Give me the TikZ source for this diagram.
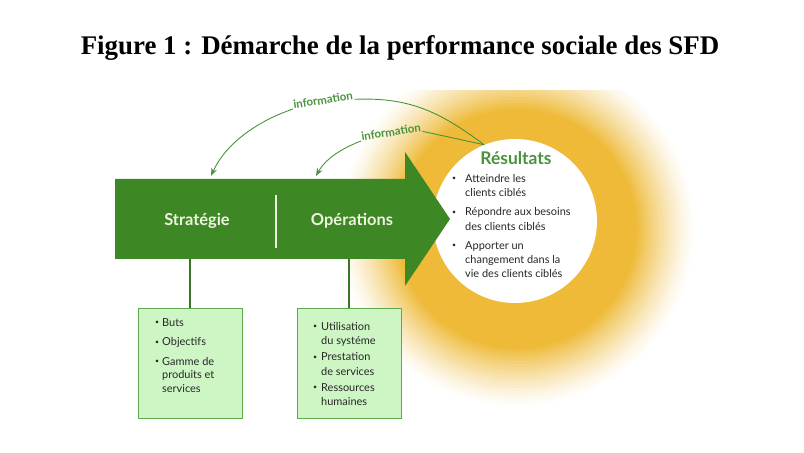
\documentclass[tikz,border=0pt]{standalone}
\usepackage{fontspec}
\setmainfont{Lato}
\newfontfamily\titlefont{Liberation Serif}
\usepackage{tikz}
\usetikzlibrary{arrows.meta, positioning}

\definecolor{arrowgreen}{RGB}{61,135,36}
\definecolor{boxfill}{RGB}{206,245,196}
\definecolor{boxline}{RGB}{96,170,78}
\definecolor{linkgreen}{RGB}{58,118,40}
\definecolor{infogreen}{RGB}{74,146,60}
\definecolor{glowgold}{RGB}{238,186,56}
\definecolor{cream}{RGB}{240,242,226}
\definecolor{listtext}{RGB}{40,40,40}

\newcommand{\blt}[1][7bp]{\makebox[#1][l]{\raisebox{0.25ex}{\fontsize{7}{7}\selectfont\textbullet}}}
\newcommand{\bind}[1][7bp]{\hspace*{#1}}

\begin{document}
\begin{tikzpicture}[
  x=1bp, y=-1bp,
  box/.style={draw=boxline, fill=boxfill, line width=0.8bp, minimum width=104bp, minimum height=110bp},
  list/.style={anchor=north west, inner sep=0pt, align=left, text=listtext},
  armtext/.style={text=cream, font=\bfseries\fontsize{16.5}{18}\selectfont},
  info/.style={text=infogreen, inner sep=1bp, font=\bfseries\fontsize{11.5}{13}\selectfont},
  infoline/.style={draw=infogreen, line width=0.9bp},
  infoarrow/.style={infoline, -{Stealth[length=8bp,width=6bp]}},
  link/.style={draw=linkgreen, line width=2bp}
]
\useasboundingbox (0,0) rectangle (804,453);

% Title
\node[anchor=base] (title) at (400,55) {\titlefont\bfseries\fontsize{27}{30}\selectfont Figure 1 : Démarche de la performance sociale des SFD};

% Glow
\begin{scope}
  \clip (300,91) rectangle (720,430);
  \foreach \r in {180,177,...,88} {
    \pgfmathsetmacro\m{min(100,100*((180-\r)/60)^1.3)}
    \fill[glowgold!\m!white] (517,229) circle (\r);
  }
\end{scope}

% Results
\node[circle, fill=white, minimum size=164bp, inner sep=0pt] (res) at (515,221) {};
\node[text=infogreen, font=\bfseries\fontsize{17.5}{20}\selectfont] (restitle) at (516,158) {Résultats};
\node[list, font=\fontsize{11}{14.3}\selectfont] (reslist) at (452,174)
  {\blt[13bp]Atteindre les\\ \bind[13bp]clients ciblés\\[5bp]
   \blt[13bp]Répondre aux besoins\\ \bind[13bp]des clients ciblés\\[5bp]
   \blt[13bp]Apporter un\\ \bind[13bp]changement dans la\\ \bind[13bp]vie des clients ciblés};

% Arrow
\fill[arrowgreen] (115,179) -- (405,179) -- (405,152) -- (450,219) -- (405,286) -- (405,259) -- (115,259) -- cycle;
\draw[cream, line width=1.5bp] (276,195) -- (276,248);
\node[armtext] (strat) at (197,221) {Stratégie};
\node[armtext] (oper) at (352,221) {Opérations};
\coordinate (stratbot) at (190,259);
\coordinate (operbot) at (349,259);
\coordinate (strattop) at (211,176);
\coordinate (opertop) at (316,176);

% Boxes
\node[box] (box1) at (190,363) {};
\node[box] (box2) at (349,363) {};
\node[list, font=\fontsize{11}{13.7}\selectfont] (buts) at (155,318)
  {\blt Buts\\[6bp] \blt Objectifs\\[6bp] \blt Gamme de\\ \bind produits et\\ \bind services};
\node[list, font=\fontsize{11}{14.5}\selectfont] (usage) at (313,322)
  {\blt[8bp]Utilisation\\ \bind[8bp]du systéme\\[1.5bp] \blt[8bp]Prestation\\ \bind[8bp]de services\\[1.5bp] \blt[8bp]Ressources\\ \bind[8bp]humaines};

% Information
\node[info, rotate=9] (info1) at (323,100) {information};
\node[info, rotate=9] (info2) at (391,132) {information};

% Pointers
\draw[link] (stratbot) -- (box1.north);
\draw[link] (operbot) -- (box2.north);
\draw[infoline] (res.112) .. controls (440,112) and (410,97) .. (info1.base east);
\draw[infoarrow] (info1.base west) .. controls (255,122) and (225,145) .. (strattop);
\draw[infoline] (res.112) -- (info2.base east);
\draw[infoarrow] (info2.base west) .. controls (343,148) and (326,158) .. (opertop);
\end{tikzpicture}
\end{document}
